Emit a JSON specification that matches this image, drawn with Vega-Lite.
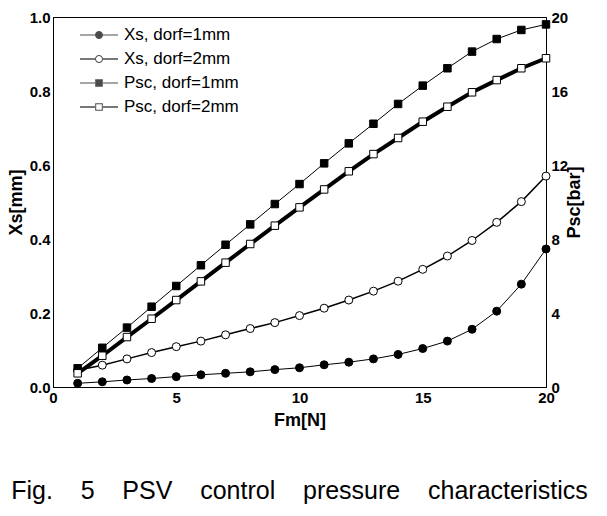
{
  "$schema": "https://vega.github.io/schema/vega-lite/v6.json",
  "width": 493,
  "height": 370,
  "autosize": "none",
  "padding": {"left": 53, "top": 17, "right": 61, "bottom": 129},
  "config": {
    "view": {"stroke": "black", "strokeWidth": 1},
    "font": "Liberation Sans",
    "axis": {
      "grid": false, "ticks": false, "domainColor": "black", "domainWidth": 1,
      "labelFont": "Liberation Sans", "labelFontWeight": "bold", "labelFontSize": 15, "labelColor": "black",
      "titleFont": "Liberation Sans", "titleFontWeight": "bold", "titleFontSize": 18, "titleColor": "black",
      "labelFlush": false, "labelOverlap": false
    }
  },
  "title": {
    "text": "Fig.\u00a0\u00a0\u00a0 5\u00a0\u00a0\u00a0 PSV\u00a0\u00a0\u00a0 control\u00a0\u00a0\u00a0 pressure\u00a0\u00a0\u00a0 characteristics",
    "orient": "bottom", "anchor": "middle", "font": "Liberation Sans", "fontSize": 25, "fontWeight": "normal", "color": "black", "offset": 50
  },
  "data": {"values": [
    {"Fm":1,"v":0.010,"s":"Xs, dorf=1mm"},{"Fm":2,"v":0.014,"s":"Xs, dorf=1mm"},{"Fm":3,"v":0.019,"s":"Xs, dorf=1mm"},{"Fm":4,"v":0.023,"s":"Xs, dorf=1mm"},{"Fm":5,"v":0.028,"s":"Xs, dorf=1mm"},
    {"Fm":6,"v":0.033,"s":"Xs, dorf=1mm"},{"Fm":7,"v":0.037,"s":"Xs, dorf=1mm"},{"Fm":8,"v":0.041,"s":"Xs, dorf=1mm"},{"Fm":9,"v":0.047,"s":"Xs, dorf=1mm"},{"Fm":10,"v":0.052,"s":"Xs, dorf=1mm"},
    {"Fm":11,"v":0.060,"s":"Xs, dorf=1mm"},{"Fm":12,"v":0.067,"s":"Xs, dorf=1mm"},{"Fm":13,"v":0.076,"s":"Xs, dorf=1mm"},{"Fm":14,"v":0.088,"s":"Xs, dorf=1mm"},{"Fm":15,"v":0.104,"s":"Xs, dorf=1mm"},
    {"Fm":16,"v":0.124,"s":"Xs, dorf=1mm"},{"Fm":17,"v":0.156,"s":"Xs, dorf=1mm"},{"Fm":18,"v":0.205,"s":"Xs, dorf=1mm"},{"Fm":19,"v":0.278,"s":"Xs, dorf=1mm"},{"Fm":20,"v":0.373,"s":"Xs, dorf=1mm"},
    {"Fm":1,"v":0.045,"s":"Xs, dorf=2mm"},{"Fm":2,"v":0.059,"s":"Xs, dorf=2mm"},{"Fm":3,"v":0.076,"s":"Xs, dorf=2mm"},{"Fm":4,"v":0.093,"s":"Xs, dorf=2mm"},{"Fm":5,"v":0.109,"s":"Xs, dorf=2mm"},
    {"Fm":6,"v":0.124,"s":"Xs, dorf=2mm"},{"Fm":7,"v":0.141,"s":"Xs, dorf=2mm"},{"Fm":8,"v":0.158,"s":"Xs, dorf=2mm"},{"Fm":9,"v":0.174,"s":"Xs, dorf=2mm"},{"Fm":10,"v":0.193,"s":"Xs, dorf=2mm"},
    {"Fm":11,"v":0.213,"s":"Xs, dorf=2mm"},{"Fm":12,"v":0.235,"s":"Xs, dorf=2mm"},{"Fm":13,"v":0.259,"s":"Xs, dorf=2mm"},{"Fm":14,"v":0.286,"s":"Xs, dorf=2mm"},{"Fm":15,"v":0.318,"s":"Xs, dorf=2mm"},
    {"Fm":16,"v":0.354,"s":"Xs, dorf=2mm"},{"Fm":17,"v":0.396,"s":"Xs, dorf=2mm"},{"Fm":18,"v":0.445,"s":"Xs, dorf=2mm"},{"Fm":19,"v":0.501,"s":"Xs, dorf=2mm"},{"Fm":20,"v":0.570,"s":"Xs, dorf=2mm"},
    {"Fm":1,"v":1.01,"s":"Psc, dorf=1mm"},{"Fm":2,"v":2.12,"s":"Psc, dorf=1mm"},{"Fm":3,"v":3.21,"s":"Psc, dorf=1mm"},{"Fm":4,"v":4.34,"s":"Psc, dorf=1mm"},{"Fm":5,"v":5.46,"s":"Psc, dorf=1mm"},
    {"Fm":6,"v":6.58,"s":"Psc, dorf=1mm"},{"Fm":7,"v":7.69,"s":"Psc, dorf=1mm"},{"Fm":8,"v":8.79,"s":"Psc, dorf=1mm"},{"Fm":9,"v":9.89,"s":"Psc, dorf=1mm"},{"Fm":10,"v":10.97,"s":"Psc, dorf=1mm"},
    {"Fm":11,"v":12.09,"s":"Psc, dorf=1mm"},{"Fm":12,"v":13.17,"s":"Psc, dorf=1mm"},{"Fm":13,"v":14.23,"s":"Psc, dorf=1mm"},{"Fm":14,"v":15.3,"s":"Psc, dorf=1mm"},{"Fm":15,"v":16.29,"s":"Psc, dorf=1mm"},
    {"Fm":16,"v":17.23,"s":"Psc, dorf=1mm"},{"Fm":17,"v":18.13,"s":"Psc, dorf=1mm"},{"Fm":18,"v":18.81,"s":"Psc, dorf=1mm"},{"Fm":19,"v":19.3,"s":"Psc, dorf=1mm"},{"Fm":20,"v":19.6,"s":"Psc, dorf=1mm"},
    {"Fm":1,"v":0.74,"s":"Psc, dorf=2mm"},{"Fm":2,"v":1.69,"s":"Psc, dorf=2mm"},{"Fm":3,"v":2.70,"s":"Psc, dorf=2mm"},{"Fm":4,"v":3.69,"s":"Psc, dorf=2mm"},{"Fm":5,"v":4.70,"s":"Psc, dorf=2mm"},
    {"Fm":6,"v":5.71,"s":"Psc, dorf=2mm"},{"Fm":7,"v":6.72,"s":"Psc, dorf=2mm"},{"Fm":8,"v":7.73,"s":"Psc, dorf=2mm"},{"Fm":9,"v":8.72,"s":"Psc, dorf=2mm"},{"Fm":10,"v":9.71,"s":"Psc, dorf=2mm"},
    {"Fm":11,"v":10.68,"s":"Psc, dorf=2mm"},{"Fm":12,"v":11.66,"s":"Psc, dorf=2mm"},{"Fm":13,"v":12.59,"s":"Psc, dorf=2mm"},{"Fm":14,"v":13.46,"s":"Psc, dorf=2mm"},{"Fm":15,"v":14.34,"s":"Psc, dorf=2mm"},
    {"Fm":16,"v":15.15,"s":"Psc, dorf=2mm"},{"Fm":17,"v":15.93,"s":"Psc, dorf=2mm"},{"Fm":18,"v":16.59,"s":"Psc, dorf=2mm"},{"Fm":19,"v":17.23,"s":"Psc, dorf=2mm"},{"Fm":20,"v":17.77,"s":"Psc, dorf=2mm"}
  ]},
  "layer": [
    {
      "transform": [{"filter": {"field": "s", "oneOf": ["Xs, dorf=1mm", "Xs, dorf=2mm"]}}],
      "encoding": {
        "x": {"field": "Fm", "type": "quantitative", "scale": {"domain": [0, 20], "nice": false},
              "axis": {"values": [0, 5, 10, 15, 20], "title": "Fm[N]", "labelPadding": 3, "titlePadding": 6}},
        "y": {"field": "v", "type": "quantitative", "scale": {"domain": [0, 1], "nice": false},
              "axis": {"orient": "left", "values": [0, 0.2, 0.4, 0.6, 0.8, 1.0], "format": ".1f", "title": "Xs[mm]", "labelPadding": 3, "titlePadding": 4}}
      },
      "layer": [
        {"mark": {"type": "line", "color": "black"},
         "encoding": {"detail": {"field": "s"},
                      "strokeWidth": {"field": "s", "type": "nominal", "scale": {"type": "ordinal", "domain": ["Psc, dorf=1mm", "Psc, dorf=2mm", "Xs, dorf=1mm", "Xs, dorf=2mm"], "range": [1, 1.5, 1, 1.5]}, "legend": null}}},
        {"mark": {"type": "point", "shape": "circle", "filled": true, "size": 64, "stroke": "black", "strokeWidth": 1, "opacity": 1},
         "encoding": {"fill": {"field": "s", "type": "nominal", "scale": {"domain": ["Xs, dorf=2mm", "Xs, dorf=1mm", "Psc, dorf=2mm", "Psc, dorf=1mm"], "range": ["white", "black", "white", "black"]}, "legend": null}}}
      ]
    },
    {
      "transform": [{"filter": {"field": "s", "oneOf": ["Psc, dorf=1mm", "Psc, dorf=2mm"]}}],
      "encoding": {
        "x": {"field": "Fm", "type": "quantitative"},
        "y": {"field": "v", "type": "quantitative", "scale": {"domain": [0, 20], "nice": false},
              "axis": {"orient": "right", "values": [0, 4, 8, 12, 16, 20], "format": "d", "title": "Psc[bar]", "titleAngle": 270, "labelPadding": 5, "titlePadding": 16}}
      },
      "layer": [
        {"mark": {"type": "line", "color": "black"},
         "encoding": {"detail": {"field": "s"},
                      "strokeWidth": {"field": "s", "type": "nominal", "legend": null}}},
        {"mark": {"type": "point", "shape": "square", "filled": true, "size": 56, "stroke": "black", "strokeWidth": 1, "opacity": 1},
         "encoding": {"fill": {"field": "s", "type": "nominal", "legend": null}}}
      ]
    },
    {
      "transform": [{"filter": "datum.Fm > 100"}],
      "mark": {"type": "point", "filled": true, "color": "black", "size": 400},
      "encoding": {
        "x": {"field": "Fm", "type": "quantitative"},
        "shape": {"field": "s", "type": "nominal",
          "scale": {"domain": ["Xs, dorf=1mm", "Xs, dorf=2mm", "Psc, dorf=1mm", "Psc, dorf=2mm"],
                    "range": [
                      "M-1.9,-0.05H-0.4V0.05H-1.9ZM0.4,-0.05H1.9V0.05H0.4ZM-0.4,0A0.4,0.4 0 1,1 0.4,0A0.4,0.4 0 1,1 -0.4,0Z",
                      "M-1.9,-0.08H-0.4V0.08H-1.9ZM0.4,-0.08H1.9V0.08H0.4ZM-0.4,0A0.4,0.4 0 1,1 0.4,0A0.4,0.4 0 1,1 -0.4,0ZM-0.3,0A0.3,0.3 0 1,0 0.3,0A0.3,0.3 0 1,0 -0.3,0Z",
                      "M-1.9,-0.05H-0.4V0.05H-1.9ZM0.4,-0.05H1.9V0.05H0.4ZM-0.38,-0.38H0.38V0.38H-0.38Z",
                      "M-1.9,-0.08H-0.4V0.08H-1.9ZM0.4,-0.08H1.9V0.08H0.4ZM-0.38,-0.38H0.38V0.38H-0.38ZM-0.28,-0.28V0.28H0.28V-0.28Z"
                    ]},
          "legend": {
            "orient": "none", "legendX": 35, "legendY": 7, "title": null, "padding": 0,
            "labelFont": "Liberation Sans", "labelFontSize": 17, "labelColor": "black", "labelOffset": 14,
            "symbolSize": 400, "rowPadding": 5,
            "encode": {"symbols": {"update": {"fill": {"value": "black"}, "stroke": {"value": "transparent"}, "strokeWidth": {"value": 0}, "opacity": {"value": 1}}}}
          }
        }
      }
    }
  ],
  "resolve": {"scale": {"y": "independent"}}
}
